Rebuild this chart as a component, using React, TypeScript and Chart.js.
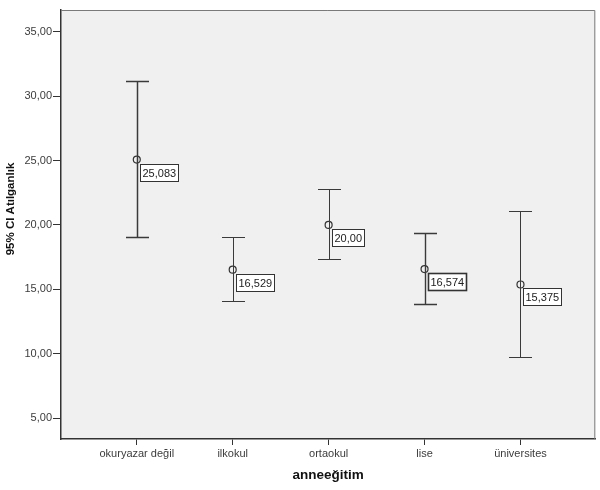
import React, { useEffect, useRef } from "react";
import { Chart, registerables } from "chart.js";

Chart.register(...registerables);

const CATEGORIES = ["okuryazar değil", "ilkokul", "ortaokul", "lise", "üniversites"];
const MEANS = [25.083, 16.529, 20.0, 16.574, 15.375];
const CI_LOWER = [19.09, 14.09, 17.33, 13.86, 9.76];
const CI_UPPER = [31.2, 19.06, 22.77, 19.35, 21.06];
const MEAN_LABELS = ["25,083", "16,529", "20,00", "16,574", "15,375"];
const Y_TICKS = [5, 10, 15, 20, 25, 30, 35];
const X_TITLE = "anneeğitim";
const Y_TITLE = "95% CI Atılganlık";

const FONT = "'Liberation Sans', Arial, sans-serif";
const BAR_WIDTHS = [1.5, 1, 1, 1.4, 1];
const BOX_WIDTHS = [1, 1, 1, 1.6, 1];

const errorBarPlugin = {
  id: "errorBars",
  beforeDraw(chart: any) {
    const { ctx, chartArea: a } = chart;
    ctx.save();
    ctx.fillStyle = "#f0f0f0";
    ctx.fillRect(a.left, a.top, a.right - a.left, a.bottom - a.top);
    ctx.restore();
  },
  afterDatasetsDraw(chart: any) {
    const { ctx, chartArea: a } = chart;
    const xs = chart.scales.x;
    const ys = chart.scales.y;
    ctx.save();
    ctx.strokeStyle = "#7a7a7a";
    ctx.lineWidth = 1;
    ctx.beginPath();
    ctx.moveTo(a.left, a.top + 0.5);
    ctx.lineTo(a.right - 0.5, a.top + 0.5);
    ctx.lineTo(a.right - 0.5, a.bottom);
    ctx.stroke();

    MEANS.forEach((m, i) => {
      const x = Math.round(xs.getPixelForValue(i)) + 0.5;
      const yl = Math.round(ys.getPixelForValue(CI_LOWER[i])) + 0.5;
      const yu = Math.round(ys.getPixelForValue(CI_UPPER[i])) + 0.5;
      ctx.strokeStyle = "#3a3a3a";
      ctx.lineWidth = BAR_WIDTHS[i];
      ctx.beginPath();
      ctx.moveTo(x, yl);
      ctx.lineTo(x, yu);
      ctx.moveTo(x - 11.5, yl);
      ctx.lineTo(x + 11.5, yl);
      ctx.moveTo(x - 11.5, yu);
      ctx.lineTo(x + 11.5, yu);
      ctx.stroke();
    });

    ctx.font = `11px ${FONT}`;
    ctx.textBaseline = "middle";
    ctx.textAlign = "left";
    MEANS.forEach((m, i) => {
      const x = xs.getPixelForValue(i);
      const y = ys.getPixelForValue(m);
      const tw = ctx.measureText(MEAN_LABELS[i]).width;
      const bx = Math.round(x + 3) + 0.5;
      const by = Math.round(y + 4) + 0.5;
      const bw = Math.round(tw + 4);
      const bh = 17;
      ctx.fillStyle = "#ffffff";
      ctx.fillRect(bx, by, bw, bh);
      ctx.strokeStyle = "#333333";
      ctx.lineWidth = BOX_WIDTHS[i];
      ctx.strokeRect(bx, by, bw, bh);
      ctx.fillStyle = "#222222";
      ctx.fillText(MEAN_LABELS[i], bx + 2, by + bh / 2 + 0.5);
    });

    ctx.fillStyle = "#111111";
    ctx.font = `bold 13.5px ${FONT}`;
    ctx.textAlign = "center";
    ctx.textBaseline = "middle";
    ctx.fillText(X_TITLE, (a.left + a.right) / 2, 475);
    ctx.translate(11, 209);
    ctx.rotate(-Math.PI / 2);
    ctx.font = `bold 11.5px ${FONT}`;
    ctx.fillText(Y_TITLE, 0, 0);
    ctx.restore();
  },
};

export default function App() {
  const ref = useRef<HTMLCanvasElement>(null);
  useEffect(() => {
    document.body.style.margin = "0";
    document.body.style.background = "#ffffff";
    const chart = new Chart(ref.current as HTMLCanvasElement, {
      type: "scatter",
      data: {
        datasets: [
          {
            data: MEANS.map((m, i) => ({ x: i, y: m })),
            pointRadius: 3.5,
            pointBackgroundColor: "rgba(0,0,0,0)",
            pointBorderColor: "#333333",
            pointBorderWidth: 1.2,
            pointHoverRadius: 3.5,
          },
        ],
      },
      options: {
        animation: false,
        responsive: false,
        devicePixelRatio: 1,
        layout: { padding: { top: 10, right: 3, left: 0, bottom: 0 } },
        plugins: { legend: { display: false }, tooltip: { enabled: false } },
        scales: {
          x: {
            type: "linear",
            min: -0.79,
            max: 4.78,
            afterFit: (s: any) => {
              s.height = 51;
            },
            afterBuildTicks: (s: any) => {
              s.ticks = CATEGORIES.map((_, i) => ({ value: i }));
            },
            ticks: {
              callback: (v: any) => CATEGORIES[v] ?? "",
              font: { family: FONT, size: 11 },
              color: "#3c3c3c",
              padding: 2,
              maxRotation: 0,
              autoSkip: false,
            },
            grid: {
              drawOnChartArea: false,
              drawTicks: true,
              tickLength: 6,
              tickColor: "#333333",
            },
            border: { display: true, color: "#333333", width: 1.5 },
          },
          y: {
            type: "linear",
            min: 3.37,
            max: 36.7,
            afterFit: (s: any) => {
              s.width = 61;
            },
            afterBuildTicks: (s: any) => {
              s.ticks = Y_TICKS.map((v) => ({ value: v }));
            },
            ticks: {
              callback: (v: any) => Number(v).toFixed(2).replace(".", ","),
              font: { family: FONT, size: 11 },
              color: "#3c3c3c",
              padding: 1,
              autoSkip: false,
            },
            grid: {
              drawOnChartArea: false,
              drawTicks: true,
              tickLength: 8,
              tickColor: "#333333",
            },
            border: { display: true, color: "#333333", width: 1.5 },
          },
        },
      },
      plugins: [errorBarPlugin],
    } as any);
    return () => chart.destroy();
  }, []);
  return <canvas ref={ref} width={600} height={490} style={{ display: "block" }} />;
}
